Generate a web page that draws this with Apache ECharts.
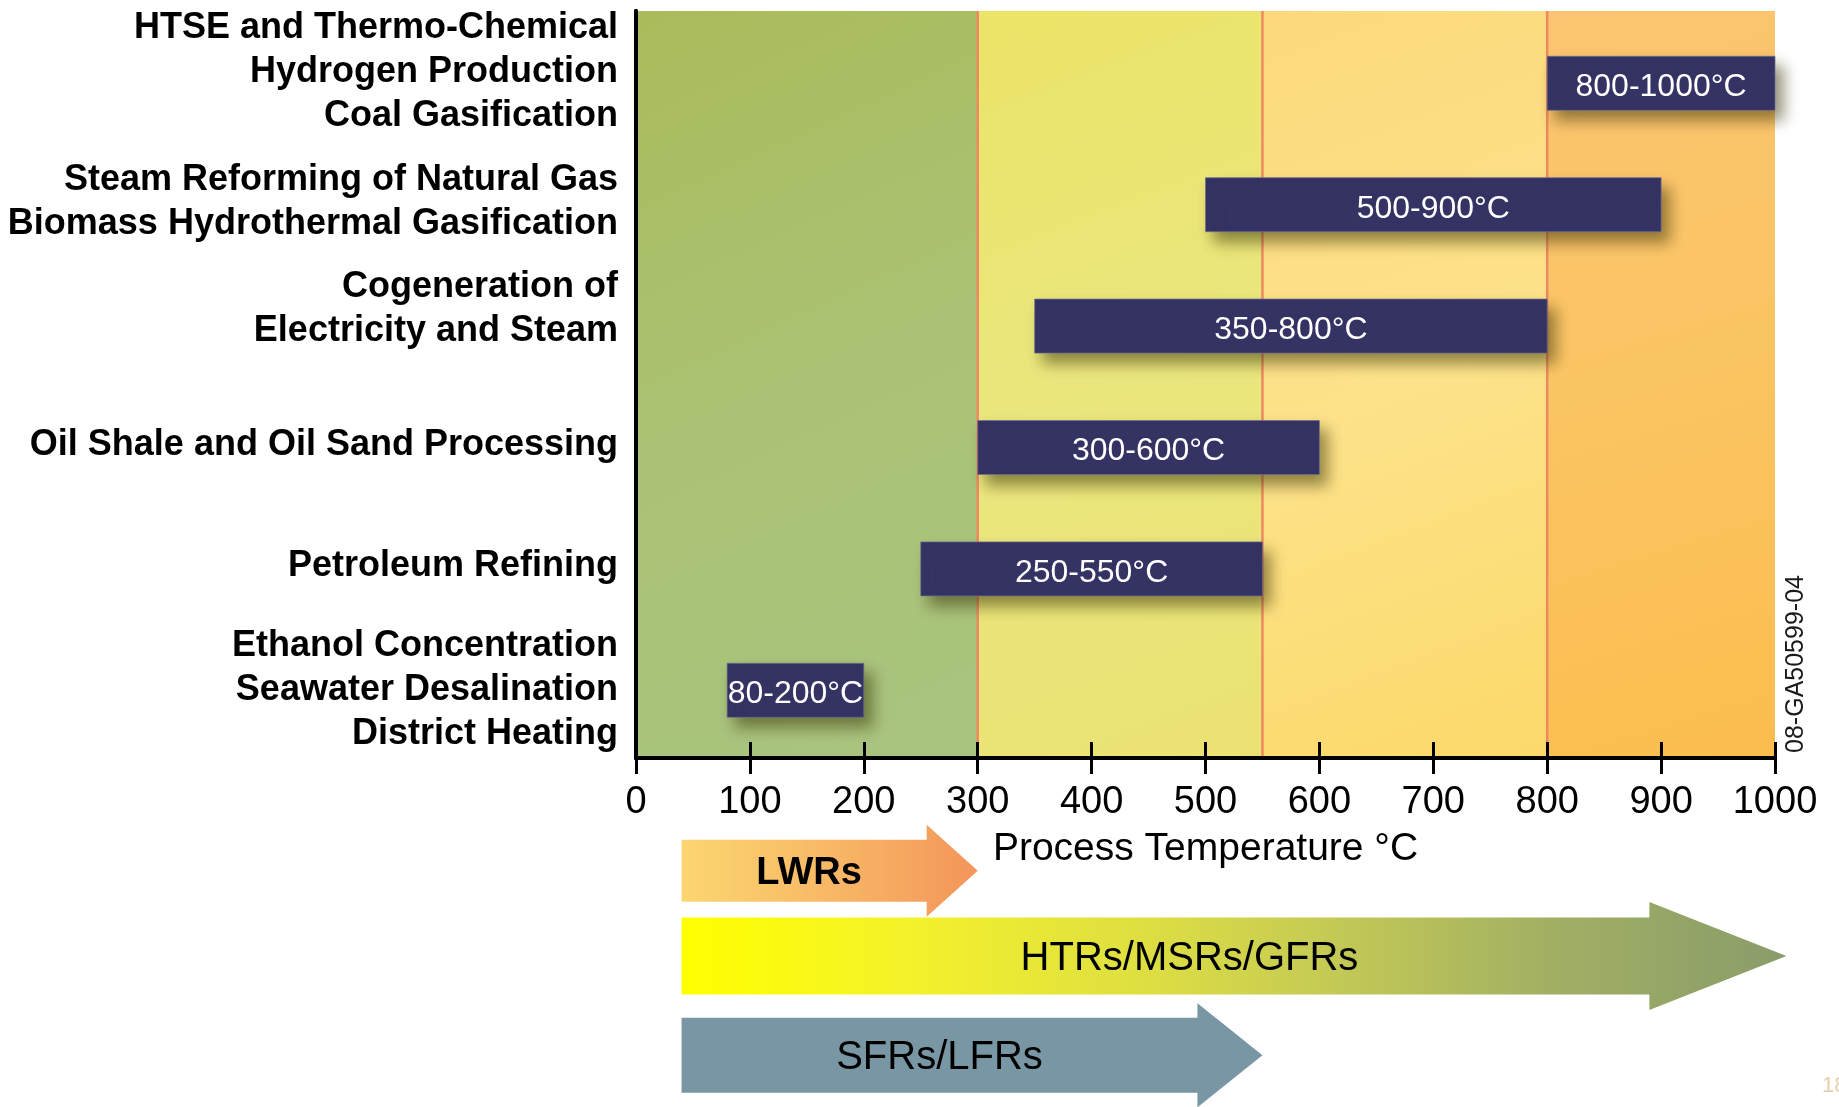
<!DOCTYPE html>
<html>
<head>
<meta charset="utf-8">
<script src="https://cdn.jsdelivr.net/npm/echarts@6/dist/echarts.min.js"></script>
<style>
  html, body { margin: 0; padding: 0; background: #ffffff; }
  #chart { width: 1839px; height: 1107px; }
</style>
</head>
<body>
<div id="chart"></div>
<script>
// Process heat applications (bottom to top) and the temperature band each one needs
const categories = [
  'Ethanol Concentration\nSeawater Desalination\nDistrict Heating',
  'Petroleum Refining',
  'Oil Shale and Oil Sand Processing',
  'Cogeneration of\nElectricity and Steam',
  'Steam Reforming of Natural Gas\nBiomass Hydrothermal Gasification',
  'HTSE and Thermo-Chemical\nHydrogen Production\nCoal Gasification'
];
const rangeStart = [80, 250, 300, 350, 500, 800];
const rangeEnd = [200, 550, 600, 800, 900, 1000];

// Temperature axis
const tempMin = 0;
const tempMax = 1000;
const tempStep = 100;
const axisTitle = 'Process Temperature °C';

// Background temperature bands
const zoneStart = [0, 300, 550, 800];
const zoneEnd = [300, 550, 800, 1000];

// Reactor families and the outlet temperatures they reach
const reactors = ['LWRs', 'HTRs/MSRs/GFRs', 'SFRs/LFRs'];
const reactorStart = [40, 40, 40];
const reactorEnd = [300, 1010, 550];

const figureId = '08-GA50599-04';
const pageNumber = '18';

// ---- styling ----
const FONT = '"Liberation Sans", Arial, Helvetica, sans-serif';
const G = echarts.graphic;
const zoneFills = [
  ['#aabb5b', '#aac274', '#a8c47f'],
  ['#ece467', '#eae67e', '#ece273'],
  ['#fdd97c', '#fde28a', '#fcd96a'],
  ['#fcc470', '#fbc462', '#fbbd4e']
];
// extra empty line under a label block nudges it upward
const labelSpacer = [0, 6, 4, 34, 6, 23];
const reactorStyle = [
  { bodyH: 62, headH: 92, headLen: 51, dy: 6, textDx: 5, bold: true,
    stops: [[0, '#fbd670'], [0.5, '#f8b866'], [1, '#f3955a']] },
  { bodyH: 77, headH: 108, headLen: 137, dy: 0, textDx: 24, bold: false,
    stops: [[0, '#ffff00'], [0.2, '#f4f22a'], [0.42, '#dede42'], [0.6, '#c2c856'], [0.8, '#a0ae64'], [1, '#8a9c6a']] },
  { bodyH: 75, headH: 104, headLen: 65, dy: 8, textDx: 0, bold: false,
    stops: [[0, '#7896a3'], [1, '#7896a3']] }
];

const chart = echarts.init(document.getElementById('chart'), null, { renderer: 'canvas' });

const rich = { t: { fontFamily: FONT, fontSize: 36, fontWeight: 'bold', lineHeight: 44, color: '#000', align: 'right' } };
labelSpacer.forEach((h, i) => { rich['s' + i] = { fontSize: 1, lineHeight: Math.max(h, 1) }; });

const option = {
  backgroundColor: '#ffffff',
  animation: false,
  textStyle: { fontFamily: FONT },
  grid: [
    { left: 636, right: 64, top: 11, bottom: 349 },
    { left: 636, right: 64, top: 22.6, bottom: 356 },
    { left: 636, right: 64, top: 819, bottom: 14 }
  ],
  xAxis: [
    {
      gridIndex: 0, type: 'value', position: 'bottom', min: tempMin, max: tempMax, interval: tempStep, z: 4,
      axisLine: { show: true, lineStyle: { color: '#000', width: 4 } },
      axisTick: { show: true, inside: true, length: 16, lineStyle: { color: '#000', width: 3 } },
      axisLabel: { show: true, margin: 26, fontSize: 38, color: '#000', fontFamily: FONT,
        formatter: v => String(v) },
      splitLine: { show: false },
      name: axisTitle, nameLocation: 'middle', nameGap: 72,
      nameTextStyle: { fontSize: 39, color: '#000', fontFamily: FONT }
    },
    {
      gridIndex: 0, type: 'value', position: 'top', min: tempMin, max: tempMax, interval: tempStep, z: 4,
      axisLine: { show: true, lineStyle: { color: '#000', width: 4 } },
      axisTick: { show: true, inside: true, length: 16, lineStyle: { color: '#000', width: 3 } },
      axisLabel: { show: false }, splitLine: { show: false }
    },
    { gridIndex: 1, type: 'value', min: tempMin, max: tempMax, show: false },
    { gridIndex: 2, type: 'value', min: tempMin, max: tempMax, show: false }
  ],
  yAxis: [
    {
      gridIndex: 0, type: 'value', position: 'left', min: 0, max: 1, z: 4,
      axisLine: { show: true, lineStyle: { color: '#000', width: 4 } },
      axisTick: { show: false }, axisLabel: { show: false }, splitLine: { show: false }
    },
    {
      gridIndex: 0, type: 'value', position: 'right', min: 0, max: 1, z: 4,
      axisLine: { show: true, lineStyle: { color: '#000', width: 4 } },
      axisTick: { show: false }, axisLabel: { show: false }, splitLine: { show: false }
    },
    {
      gridIndex: 1, type: 'category', data: categories,
      axisLine: { show: false }, axisTick: { show: false }, splitLine: { show: false },
      axisLabel: {
        show: true, margin: 18, interval: 0,
        formatter: (value, index) => {
          const lines = value.split('\n').map(l => '{t|' + l + '}');
          if (labelSpacer[index] > 0) lines.push('{s' + index + '| }');
          return lines.join('\n');
        },
        rich: rich
      }
    },
    { gridIndex: 2, type: 'category', data: reactors, inverse: true, show: false }
  ],
  series: [
    {
      // temperature bands behind the plot
      type: 'custom', xAxisIndex: 0, yAxisIndex: 0, z: 1, silent: true,
      data: zoneStart.map((s, i) => [s, zoneEnd[i]]),
      encode: { x: [0, 1] },
      renderItem: (params, api) => {
        const i = params.dataIndex;
        const p0 = api.coord([api.value(0), 1]);
        const p1 = api.coord([api.value(1), 0]);
        const c = zoneFills[i];
        const children = [{
          type: 'rect',
          shape: { x: p0[0], y: p0[1], width: p1[0] - p0[0], height: p1[1] - p0[1] },
          style: { fill: new G.LinearGradient(0, 0, 1, 1, [
            { offset: 0, color: c[0] }, { offset: 0.5, color: c[1] }, { offset: 1, color: c[2] }
          ]) }
        }];
        if (i > 0) {
          children.push({
            type: 'line',
            shape: { x1: p0[0], y1: p0[1], x2: p0[0], y2: p1[1] },
            style: { stroke: '#ef8a60', lineWidth: 2.5 }
          });
        }
        return { type: 'group', children };
      }
    },
    {
      // application temperature ranges
      type: 'custom', xAxisIndex: 2, yAxisIndex: 2, z: 6, silent: true,
      data: categories.map((c, i) => [i, rangeStart[i], rangeEnd[i]]),
      encode: { y: 0, x: [1, 2] },
      renderItem: (params, api) => {
        const cat = api.value(0);
        const s = api.value(1), e = api.value(2);
        const a = api.coord([s, cat]);
        const b = api.coord([e, cat]);
        const h = api.size([0, 1])[1] * 0.445;
        return {
          type: 'group',
          children: [
            {
              type: 'rect',
              shape: { x: a[0], y: a[1] - h / 2, width: b[0] - a[0], height: h },
              style: {
                fill: '#353364', stroke: 'rgba(110,110,150,0.7)', lineWidth: 1,
                shadowBlur: 14, shadowOffsetX: 8, shadowOffsetY: 10, shadowColor: 'rgba(60,55,10,0.55)'
              }
            },
            {
              type: 'text',
              style: {
                text: s + '-' + e + '°C', x: (a[0] + b[0]) / 2, y: a[1] + 4,
                fill: '#ffffff', fontSize: 32, fontFamily: FONT,
                align: 'center', verticalAlign: 'middle'
              }
            }
          ]
        };
      }
    },
    {
      // reactor temperature arrows
      type: 'custom', xAxisIndex: 3, yAxisIndex: 3, z: 6, silent: true, clip: false,
      data: reactors.map((r, i) => [i, reactorStart[i], reactorEnd[i]]),
      encode: { y: 0, x: [1, 2] },
      renderItem: (params, api) => {
        const i = params.dataIndex;
        const st = reactorStyle[i];
        const a = api.coord([api.value(1), api.value(0)]);
        const b = api.coord([api.value(2), api.value(0)]);
        const cy = a[1] + st.dy;
        const x0 = a[0], tip = b[0], base = tip - st.headLen;
        const bh = st.bodyH / 2, hh = st.headH / 2;
        return {
          type: 'group',
          children: [
            {
              type: 'polygon',
              shape: { points: [
                [x0, cy - bh], [base, cy - bh], [base, cy - hh], [tip, cy],
                [base, cy + hh], [base, cy + bh], [x0, cy + bh]
              ] },
              style: { fill: new G.LinearGradient(0, 0, 1, 0,
                st.stops.map(p => ({ offset: p[0], color: p[1] }))) }
            },
            {
              type: 'text',
              style: {
                text: reactors[i], x: (x0 + base) / 2 + st.textDx, y: cy + 3,
                fill: '#000', fontSize: st.bold ? 38 : 40, fontWeight: st.bold ? 'bold' : 'normal',
                fontFamily: FONT, align: 'center', verticalAlign: 'middle'
              }
            }
          ]
        };
      }
    }
  ],
  graphic: [
    {
      type: 'text', x: 1796, y: 664, rotation: Math.PI / 2,
      style: { text: figureId, fontSize: 25, fontFamily: FONT, fill: '#1a1a1a', align: 'center', verticalAlign: 'middle' }
    },
    {
      type: 'text', x: 1822, y: 1086,
      style: { text: pageNumber, fontSize: 22, fontFamily: FONT, fill: '#e4d0ae', align: 'left', verticalAlign: 'middle' }
    }
  ]
};

chart.setOption(option);
</script>
</body>
</html>
